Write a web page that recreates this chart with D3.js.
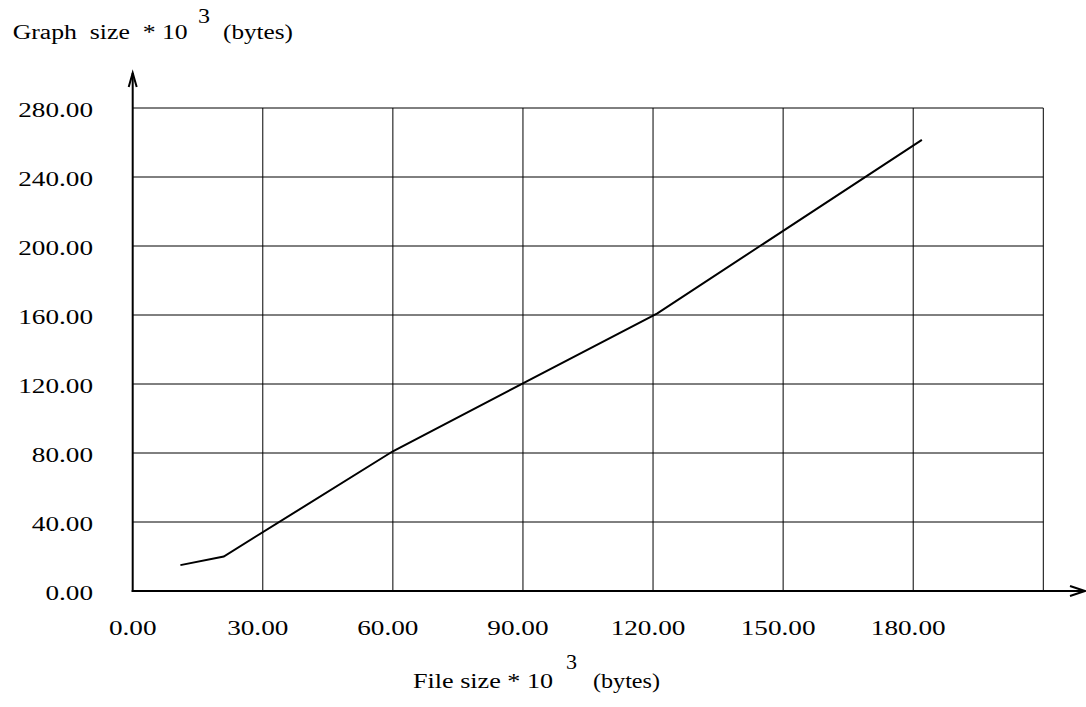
<!DOCTYPE html>
<html>
<head>
<meta charset="utf-8">
<script src="https://cdn.jsdelivr.net/npm/d3@7"></script>
<style>
  html, body { margin: 0; padding: 0; background: #fff; }
  svg { display: block; }
  text { font-family: "Liberation Serif", "Times New Roman", serif; fill: #000; }
</style>
</head>
<body>
<svg id="chart" width="1086" height="707"></svg>
<script>
// File size (x 10^3 bytes) against resulting graph size (x 10^3 bytes)
const fileSize  = [11, 21, 60, 121, 182];
const graphSize = [15, 20, 81, 161, 261.5];

const xTicks = [0, 30, 60, 90, 120, 150, 180];
const xGrid  = [30, 60, 90, 120, 150, 180, 210];
const yTicks = [0, 40, 80, 120, 160, 200, 240, 280];

const svg = d3.select("#chart");

const x = d3.scaleLinear().domain([0, 210]).range([132.7, 1043.3]);
const y = d3.scaleLinear().domain([0, 280]).range([591, 108]);

const fmt = d3.format(".2f");
const stretch = 1.36;

// grid
const grid = svg.append("g").attr("stroke", "#000").attr("stroke-width", 1).attr("fill", "none");
grid.selectAll("line.h").data(yTicks.slice(1)).join("line")
  .attr("class", "h")
  .attr("x1", x(0)).attr("x2", x(210))
  .attr("y1", d => y(d)).attr("y2", d => y(d));
grid.selectAll("line.v").data(xGrid).join("line")
  .attr("class", "v")
  .attr("x1", d => x(d)).attr("x2", d => x(d))
  .attr("y1", y(0)).attr("y2", y(280));

// axes with open arrowheads
const axes = svg.append("g").attr("stroke", "#000").attr("stroke-width", 2).attr("fill", "none");
axes.append("line").attr("x1", x(0)).attr("x2", x(0)).attr("y1", y(0) + 1).attr("y2", 73);
axes.append("path").attr("d", `M${x(0) - 4},87 L${x(0)},73 L${x(0) + 4},87`);
axes.append("line").attr("x1", x(0) - 1).attr("x2", 1085).attr("y1", y(0)).attr("y2", y(0));
axes.append("path").attr("d", `M1070,${y(0) - 5} L1085,${y(0)} L1070,${y(0) + 5}`);

// y tick labels
const yLab = svg.append("g").attr("font-size", 20);
yLab.selectAll("text").data(yTicks).join("text")
  .attr("text-anchor", "end")
  .attr("x", 93)
  .attr("y", d => y(d) + 8.5)
  .text(d => fmt(d))
  .each(function () {
    const w = this.getComputedTextLength();
    d3.select(this).attr("textLength", w * stretch).attr("lengthAdjust", "spacingAndGlyphs");
  });

// x tick labels
const xLab = svg.append("g").attr("font-size", 20);
xLab.selectAll("text").data(xTicks).join("text")
  .attr("text-anchor", "middle")
  .attr("x", d => x(d) - (d === 0 ? 0 : 5))
  .attr("y", 635)
  .text(d => fmt(d))
  .each(function () {
    const w = this.getComputedTextLength();
    d3.select(this).attr("textLength", w * stretch).attr("lengthAdjust", "spacingAndGlyphs");
  });

// data line
const line = d3.line().x(d => x(d[0])).y(d => y(d[1]));
svg.append("path")
  .datum(d3.zip(fileSize, graphSize))
  .attr("d", line)
  .attr("fill", "none")
  .attr("stroke", "#000")
  .attr("stroke-width", 2)
  .attr("stroke-linejoin", "miter");

// axis titles (with raised exponent)
function title(parts) {
  const g = svg.append("g").attr("font-size", 20.5);
  parts.forEach(p => {
    g.append("text")
      .attr("x", p.x).attr("y", p.y)
      .attr("textLength", p.w).attr("lengthAdjust", "spacingAndGlyphs")
      .style("white-space", "pre")
      .text(p.t);
  });
}
title([
  { t: "Graph  size  * 10", x: 12.7, y: 39, w: 175 },
  { t: "3", x: 198, y: 23, w: 12 },
  { t: "(bytes)", x: 223, y: 39, w: 70 }
]);
title([
  { t: "File size * 10", x: 413, y: 688, w: 140 },
  { t: "3", x: 566, y: 669, w: 11 },
  { t: "(bytes)", x: 593, y: 688, w: 67 }
]);
</script>
</body>
</html>
